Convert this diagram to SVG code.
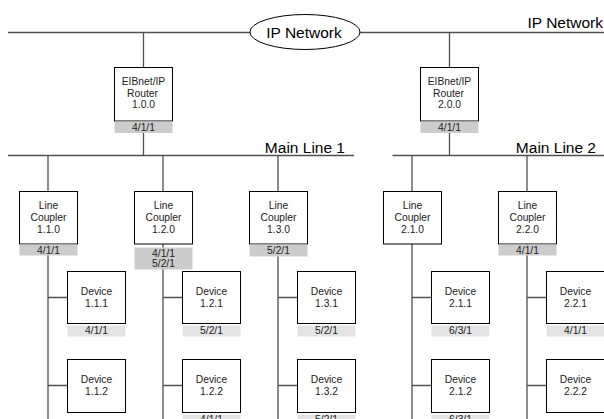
<svg xmlns="http://www.w3.org/2000/svg" width="604" height="419" viewBox="0 0 604 419">
<style>
.ln{stroke:#505050;stroke-width:1.3;fill:none}
.box{fill:#fff;stroke:#000;stroke-width:1}
.lbl{fill:#cccccc}
.dlbl{fill:#e4e4e4}
text{font-family:"Liberation Sans",Arial,sans-serif;fill:#222;text-anchor:middle}
.t{font-size:10.3px}
.big{font-size:15.5px;fill:#000}
</style>
<rect width="604" height="419" fill="#fff"/>
<g id="connectors">
<path class="ln" d="M8 32.5H250M360 32.5H604"/>
<path class="ln" d="M143.5 32.5V67M143.5 133V155.5M449.5 32.5V67M449.5 133V155.5"/>
<path class="ln" d="M8 155.5H354M392.5 155.5H604"/>
<path class="ln" d="M48 155.5V191M163 155.5V191M278 155.5V191M412 155.5V191M527 155.5V191"/>
<path class="ln" d="M48 244V419M163 244V419M278 244V419M412 244V419M527 244V419"/>
<path class="ln" d="M48 297.5H67M163 297.5H182M278 297.5H297M412 297.5H431M527 297.5H546"/>
<path class="ln" d="M48 385.5H67M163 385.5H182M278 385.5H297M412 385.5H431M527 385.5H546"/>
</g>
<g id="ip-network">
<ellipse cx="305" cy="32" rx="55" ry="17.5" fill="#fff" stroke="#000" stroke-width="1"/>
<text class="big" x="304" y="38">IP Network</text>
</g>
<g id="ip-network-label"><text class="big" x="603" y="28" style="text-anchor:end">IP Network</text></g>
<g id="main-line-1-label"><text class="big" x="345" y="153" style="text-anchor:end">Main Line 1</text></g>
<g id="main-line-2-label"><text class="big" x="596" y="153" style="text-anchor:end">Main Line 2</text></g>
<g id="router-1">
<rect class="box" x="114.5" y="67.5" width="58" height="53.5"/>
<rect class="lbl" x="114.5" y="121.5" width="58" height="11.5"/>
<text class="t" x="143.5" y="85">EIBnet/IP</text>
<text class="t" x="142.5" y="96.5">Router</text>
<text class="t" x="143.5" y="108">1.0.0</text>
<text class="t" x="143.5" y="131">4/1/1</text>
</g>
<g id="router-2">
<rect class="box" x="420.5" y="67.5" width="58" height="53.5"/>
<rect class="lbl" x="420.5" y="121.5" width="58" height="11.5"/>
<text class="t" x="449.5" y="85">EIBnet/IP</text>
<text class="t" x="448.5" y="96.5">Router</text>
<text class="t" x="449.5" y="108">2.0.0</text>
<text class="t" x="449.5" y="131">4/1/1</text>
</g>
<g id="coupler-1-1-0">
<rect class="box" x="19.5" y="191.5" width="58" height="52.5"/>
<rect class="lbl" x="19.5" y="244.5" width="58" height="11"/>
<text class="t" x="48.5" y="208.5">Line</text>
<text class="t" x="48.5" y="220.5">Coupler</text>
<text class="t" x="48.5" y="232.5">1.1.0</text>
<text class="t" x="48.5" y="253.5">4/1/1</text>
</g>
<g id="coupler-1-2-0">
<rect class="box" x="134.5" y="191.5" width="58" height="52.5"/>
<rect class="lbl" x="134.5" y="247.5" width="58" height="22"/>
<text class="t" x="163.5" y="208.5">Line</text>
<text class="t" x="163.5" y="220.5">Coupler</text>
<text class="t" x="163.5" y="232.5">1.2.0</text>
<text class="t" x="163.5" y="257">4/1/1</text>
<text class="t" x="163.5" y="266.5">5/2/1</text>
</g>
<g id="coupler-1-3-0">
<rect class="box" x="249.5" y="191.5" width="58" height="52.5"/>
<rect class="lbl" x="249.5" y="244.5" width="58" height="12"/>
<text class="t" x="278.5" y="208.5">Line</text>
<text class="t" x="278.5" y="220.5">Coupler</text>
<text class="t" x="278.5" y="232.5">1.3.0</text>
<text class="t" x="278.5" y="254">5/2/1</text>
</g>
<g id="coupler-2-1-0">
<rect class="box" x="383.5" y="191.5" width="58" height="52.5"/>
<text class="t" x="412.5" y="208.5">Line</text>
<text class="t" x="412.5" y="220.5">Coupler</text>
<text class="t" x="412.5" y="232.5">2.1.0</text>
</g>
<g id="coupler-2-2-0">
<rect class="box" x="498.5" y="191.5" width="58" height="52.5"/>
<rect class="lbl" x="498.5" y="244.5" width="58" height="11"/>
<text class="t" x="527.5" y="208.5">Line</text>
<text class="t" x="527.5" y="220.5">Coupler</text>
<text class="t" x="527.5" y="232.5">2.2.0</text>
<text class="t" x="527.5" y="253.5">4/1/1</text>
</g>
<g id="device-1-1-1">
<rect class="box" x="67.5" y="271.5" width="58" height="52"/>
<rect class="dlbl" x="67.5" y="325.5" width="58" height="11"/>
<text class="t" x="96.5" y="295">Device</text>
<text class="t" x="96.5" y="307">1.1.1</text>
<text class="t" x="96.5" y="334">4/1/1</text>
</g>
<g id="device-1-2-1">
<rect class="box" x="182.5" y="271.5" width="58" height="52"/>
<rect class="dlbl" x="182.5" y="325.5" width="58" height="11"/>
<text class="t" x="211.5" y="295">Device</text>
<text class="t" x="211.5" y="307">1.2.1</text>
<text class="t" x="211.5" y="334">5/2/1</text>
</g>
<g id="device-1-3-1">
<rect class="box" x="297.5" y="271.5" width="58" height="52"/>
<rect class="dlbl" x="297.5" y="325.5" width="58" height="11"/>
<text class="t" x="326.5" y="295">Device</text>
<text class="t" x="326.5" y="307">1.3.1</text>
<text class="t" x="326.5" y="334">5/2/1</text>
</g>
<g id="device-2-1-1">
<rect class="box" x="431.5" y="271.5" width="58" height="52"/>
<rect class="dlbl" x="431.5" y="325.5" width="58" height="11"/>
<text class="t" x="460.5" y="295">Device</text>
<text class="t" x="460.5" y="307">2.1.1</text>
<text class="t" x="460.5" y="334">6/3/1</text>
</g>
<g id="device-2-2-1">
<rect class="box" x="546.5" y="271.5" width="58" height="52"/>
<rect class="dlbl" x="546.5" y="325.5" width="58" height="11"/>
<text class="t" x="575.5" y="295">Device</text>
<text class="t" x="575.5" y="307">2.2.1</text>
<text class="t" x="575.5" y="334">4/1/1</text>
</g>
<g id="device-1-1-2">
<rect class="box" x="67.5" y="359.5" width="58" height="53"/>
<text class="t" x="96.5" y="383">Device</text>
<text class="t" x="96.5" y="395">1.1.2</text>
</g>
<g id="device-1-2-2">
<rect class="box" x="182.5" y="359.5" width="58" height="53"/>
<rect class="dlbl" x="182.5" y="414.5" width="58" height="11"/>
<text class="t" x="211.5" y="383">Device</text>
<text class="t" x="211.5" y="395">1.2.2</text>
<text class="t" x="211.5" y="423">4/1/1</text>
</g>
<g id="device-1-3-2">
<rect class="box" x="297.5" y="359.5" width="58" height="53"/>
<rect class="dlbl" x="297.5" y="414.5" width="58" height="11"/>
<text class="t" x="326.5" y="383">Device</text>
<text class="t" x="326.5" y="395">1.3.2</text>
<text class="t" x="326.5" y="423">5/2/1</text>
</g>
<g id="device-2-1-2">
<rect class="box" x="431.5" y="359.5" width="58" height="53"/>
<rect class="dlbl" x="431.5" y="414.5" width="58" height="11"/>
<text class="t" x="460.5" y="383">Device</text>
<text class="t" x="460.5" y="395">2.1.2</text>
<text class="t" x="460.5" y="423">6/3/1</text>
</g>
<g id="device-2-2-2">
<rect class="box" x="546.5" y="359.5" width="58" height="53"/>
<text class="t" x="575.5" y="383">Device</text>
<text class="t" x="575.5" y="395">2.2.2</text>
</g>
</svg>
